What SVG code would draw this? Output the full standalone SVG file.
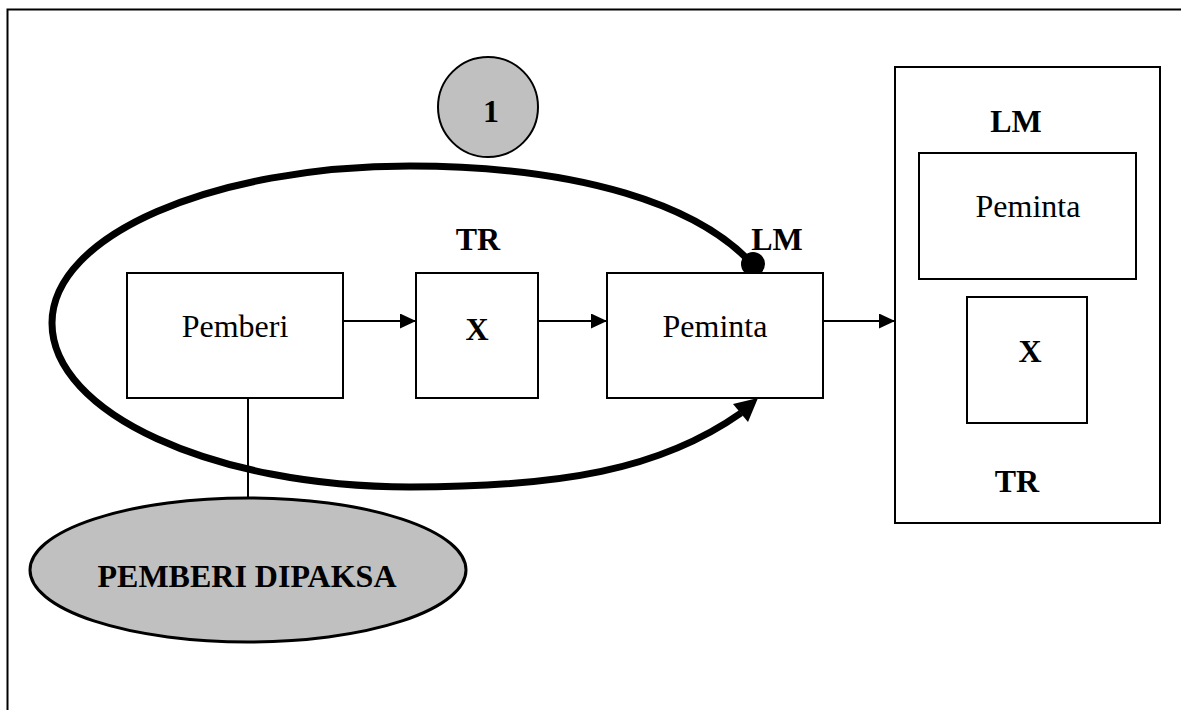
<svg xmlns="http://www.w3.org/2000/svg" width="1181" height="710" viewBox="0 0 1181 710">
<style>
.box{fill:#fff;stroke:#000;stroke-width:2}
.reg{font-family:"Liberation Serif","Times New Roman",serif;font-size:32px;fill:#000;text-anchor:middle}
.bold{font-family:"Liberation Serif","Times New Roman",serif;font-size:32px;font-weight:bold;fill:#000;text-anchor:middle}
.line{stroke:#000;stroke-width:2;fill:none}
</style>
<defs>
<marker id="arr" markerWidth="16" markerHeight="15" refX="16" refY="7.5" orient="auto" markerUnits="userSpaceOnUse">
<path d="M0,0 L16,7.5 L0,15 Z" fill="#000"/>
</marker>
</defs>
<rect x="0" y="0" width="1181" height="710" fill="#fff"/>
<rect id="frame" x="7.5" y="9.5" width="1200" height="800" fill="none" stroke="#000" stroke-width="2"/>

<g id="connectors">
<line class="line" x1="343" y1="321" x2="416" y2="321" marker-end="url(#arr)"/>
<line class="line" x1="538" y1="321" x2="607" y2="321" marker-end="url(#arr)"/>
<line class="line" x1="823" y1="321" x2="895" y2="321" marker-end="url(#arr)"/>
<line class="line" x1="248" y1="398" x2="248" y2="498"/>
<path d="M754,266 C700,205 580,166 410,166 C213,166 52,235 52,323 C52,413 213,487 410,487 C560,487 660,470 741,413" fill="none" stroke="#000" stroke-width="7"/>
<polygon points="758,398 733,404 748,422" fill="#000"/>
<circle cx="753" cy="264" r="12" fill="#000"/>
</g>

<g id="circle1">
<circle cx="488" cy="107" r="50" fill="#c0c0c0" stroke="#000" stroke-width="2"/>
<text class="bold" x="491" y="122">1</text>
</g>

<g id="pemberi">
<rect class="box" x="127" y="273" width="216" height="125"/>
<text class="reg" x="235" y="337">Pemberi</text>
</g>

<g id="x-mid">
<rect class="box" x="416" y="273" width="122" height="125"/>
<text class="bold" x="477" y="340">X</text>
</g>

<g id="peminta">
<rect class="box" x="607" y="273" width="216" height="125"/>
<text class="reg" x="715" y="337">Peminta</text>
</g>

<g id="labels">
<text class="bold" x="478" y="250">TR</text>
<text class="bold" x="777" y="250">LM</text>
</g>

<g id="result">
<rect class="box" x="895" y="67" width="265" height="456"/>
<text class="bold" x="1016" y="132">LM</text>
<rect class="box" x="919" y="153" width="217" height="126"/>
<text class="reg" x="1028" y="217">Peminta</text>
<rect class="box" x="967" y="297" width="120" height="126"/>
<text class="bold" x="1030" y="362">X</text>
<text class="bold" x="1017" y="492">TR</text>
</g>

<g id="pemberi-dipaksa">
<ellipse cx="248" cy="570" rx="218" ry="72" fill="#c0c0c0" stroke="#000" stroke-width="3"/>
<text class="bold" x="247" y="587">PEMBERI DIPAKSA</text>
</g>
</svg>
